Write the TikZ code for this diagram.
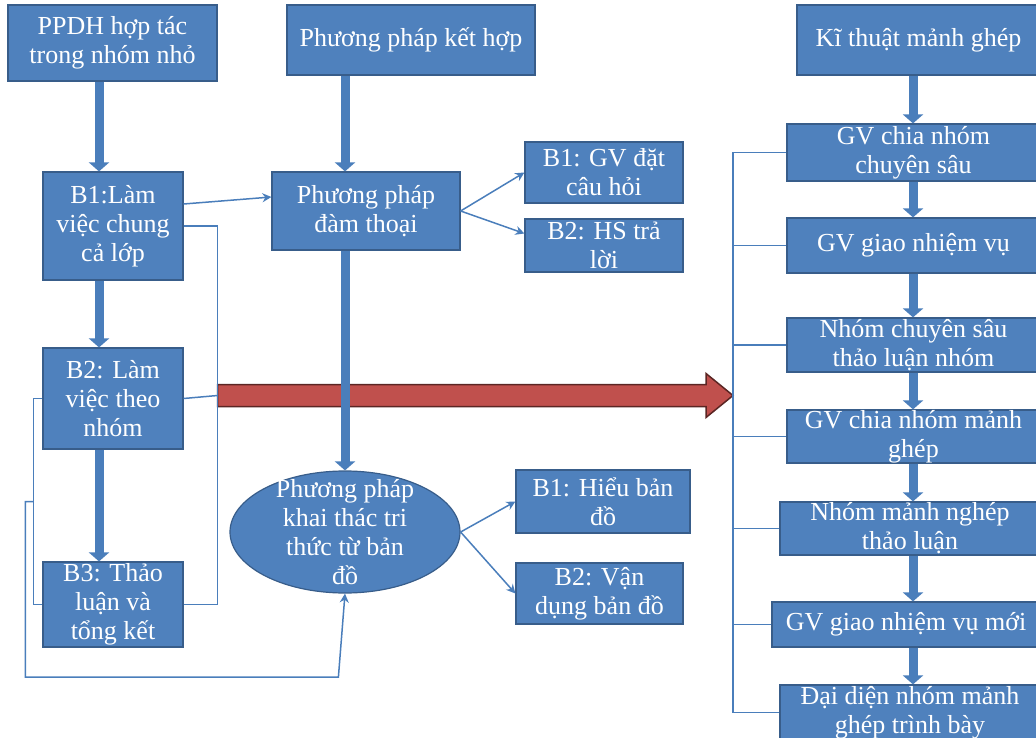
\documentclass[tikz,border=0pt]{standalone}
\usepackage{fontspec}
\setmainfont{Liberation Serif}
\usetikzlibrary{arrows.meta, calc, shapes.geometric}
\definecolor{BoxBlue}{HTML}{4F81BD}
\definecolor{EdgeBlue}{HTML}{385D8A}
\definecolor{LinkBlue}{HTML}{4A7EBB}
\definecolor{ArrowRed}{HTML}{C0504D}
\definecolor{EdgeRed}{HTML}{5B2624}
\tikzset{
  box/.style={draw=EdgeBlue, line width=1.2pt, fill=BoxBlue, text=white, align=center, inner sep=0pt, font=\fontsize{26}{29}\selectfont},
  ovalbox/.style={ellipse, draw=EdgeBlue, line width=1.2pt, fill=BoxBlue, inner sep=0pt},
  ovaltext/.style={text=white, align=center, inner sep=0pt, font=\fontsize{26}{29}\selectfont},
  thickarrow/.style={-{Triangle[length=9pt, width=20pt]}, line width=9pt, draw=LinkBlue},
  thinarrow/.style={-{Stealth[length=9pt, width=9pt]}, line width=1.5pt, draw=LinkBlue},
  bracket/.style={line width=1.5pt, draw=LinkBlue},
  redarrow/.style={fill=ArrowRed, draw=EdgeRed, line width=1.5pt, line join=miter}
}
\begin{document}
\begin{tikzpicture}[x=1pt, y=-1pt]
\useasboundingbox (0,0) rectangle (1036,738);
\node[box, minimum width=209pt, minimum height=76pt] (ppdh) at (112.5,43) {PPDH hợp tác\\trong nhóm nhỏ};
\node[box, minimum width=248pt, minimum height=70pt] (kethop) at (411,40) {Phương pháp kết hợp};
\node[box, minimum width=243pt, minimum height=70pt] (kithuat) at (918.5,40) {Kĩ thuật mảnh ghép};
\node[box, minimum width=140pt, minimum height=108pt] (buoc1) at (113,226) {B1:Làm\\việc chung\\cả lớp};
\node[box, minimum width=140pt, minimum height=101pt] (buoc2) at (113,398.5) {B2: Làm\\việc theo\\nhóm};
\node[box, minimum width=140pt, minimum height=85pt] (buoc3) at (113,604.5) {B3: Thảo\\luận và\\tổng kết};
\node[box, minimum width=188pt, minimum height=78pt] (damthoai) at (366,211) {Phương pháp\\đàm thoại};
\node[box, minimum width=158pt, minimum height=61pt] (gvdat) at (604,172.5) {B1: GV đặt\\câu hỏi};
\node[box, minimum width=158pt, minimum height=53pt] (hstraloi) at (604,245.5) {B2: HS trả\\lời};
\node[ovalbox, minimum width=230pt, minimum height=122pt, label={[ovaltext]center:Phương pháp\\khai thác tri\\thức từ bản\\đồ}] (khaithac) at (345,532) {};
\node[box, minimum width=174pt, minimum height=63pt] (hieuband) at (603,501.5) {B1: Hiểu bản\\đồ};
\node[box, minimum width=167pt, minimum height=61pt] (vandung) at (599.5,593.5) {B2: Vận\\dụng bản đồ};
\node[box, minimum width=253pt, minimum height=57pt] (chiasau) at (913.5,152.5) {GV chia nhóm\\chuyên sâu};
\node[box, minimum width=253pt, minimum height=55pt] (giaonv) at (913.5,245.5) {GV giao nhiệm vụ};
\node[box, minimum width=253pt, minimum height=54pt] (sauthaoluan) at (913.5,345) {Nhóm chuyên sâu\\thảo luận nhóm};
\node[box, minimum width=253pt, minimum height=53pt] (chiaghep) at (913.5,436.5) {GV chia nhóm mảnh\\ghép};
\node[box, minimum width=260pt, minimum height=53pt] (ghepthaoluan) at (910,528.5) {Nhóm mảnh nghép\\thảo luận};
\node[box, minimum width=268pt, minimum height=45pt] (giaomoi) at (906,624.5) {GV giao nhiệm vụ mới};
\node[box, minimum width=260pt, minimum height=55pt] (daidien) at (910,712.5) {Đại diện nhóm mảnh\\ghép trình bày};
\coordinate (lcol) at (99,0);
\coordinate (rcol) at (913,0);
\coordinate (redtail) at ($(buoc2.east)+(34,-3)$);
\coordinate (redtip) at (733,395.5);
\coordinate (lbrk) at ($(buoc2.west)!0.5!(buoc3.west)+(-9,0)$);
\filldraw[redarrow] ($(redtail)+(0,-11)$) -- ($(redtip)+(-27,-11)$) -- ($(redtip)+(-27,-22)$) -- (redtip)
  -- ($(redtip)+(-27,22)$) -- ($(redtip)+(-27,11)$) -- ($(redtail)+(0,11)$) -- cycle;
\draw[thickarrow] (ppdh.south -| lcol) -- (buoc1.north -| lcol);
\draw[thickarrow] (buoc1.south -| lcol) -- (buoc2.north -| lcol);
\draw[thickarrow] (buoc2.south -| lcol) -- (buoc3.north -| lcol);
\draw[thickarrow] (kethop.south -| khaithac) -- (damthoai.north -| khaithac);
\draw[thickarrow] (damthoai.south -| khaithac) -- (khaithac.north);
\draw[thickarrow] (kithuat.south -| rcol) -- (chiasau.north -| rcol);
\draw[thickarrow] (chiasau.south -| rcol) -- (giaonv.north -| rcol);
\draw[thickarrow] (giaonv.south -| rcol) -- (sauthaoluan.north -| rcol);
\draw[thickarrow] (sauthaoluan.south -| rcol) -- (chiaghep.north -| rcol);
\draw[thickarrow] (chiaghep.south -| rcol) -- (ghepthaoluan.north -| rcol);
\draw[thickarrow] (ghepthaoluan.south -| rcol) -- (giaomoi.north -| rcol);
\draw[thickarrow] (giaomoi.south -| rcol) -- (daidien.north -| rcol);
\draw[thinarrow] ([yshift=22pt]buoc1.east) -- ([yshift=14pt]damthoai.west);
\draw[thinarrow] (damthoai.east) -- (gvdat.west);
\draw[thinarrow] (damthoai.east) -- ([yshift=12pt]hstraloi.west);
\draw[thinarrow] (khaithac.east) -- (hieuband.west);
\draw[thinarrow] (khaithac.east) -- (vandung.west);
\draw[bracket] (buoc1.east) -- ++(34,0) |- (buoc3.east);
\draw[bracket] (buoc2.east) -- (redtail);
\draw[bracket] (buoc2.west) -- ++(-9,0) |- (buoc3.west);
\draw[thinarrow] (lbrk) -- ++(-8,0) -- ++(0,175.5) -- ++(313,0) -- (khaithac.south);
\draw[bracket] (chiasau.west) -- (chiasau.west -| redtip) |- (daidien.west);
\foreach \n in {giaonv, sauthaoluan, chiaghep, ghepthaoluan, giaomoi}
  \draw[bracket] (\n.west) -- (\n.west -| redtip);
\end{tikzpicture}
\end{document}
